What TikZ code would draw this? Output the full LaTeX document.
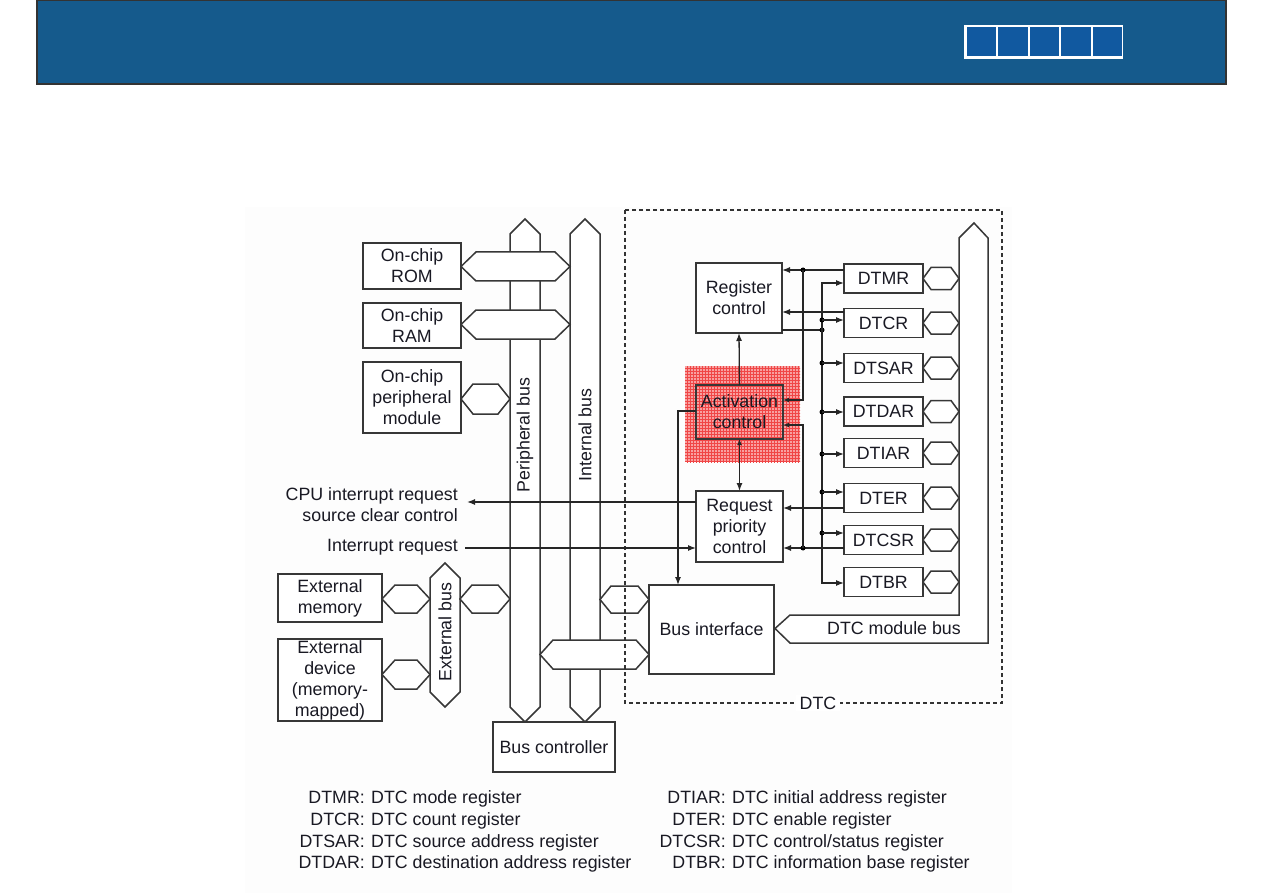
\documentclass[tikz,border=0pt]{standalone}
\usepackage{fontspec}
\setmainfont{Liberation Sans}
\usetikzlibrary{arrows.meta,patterns}
\definecolor{banner}{RGB}{21,90,140}
\definecolor{cellc}{RGB}{17,89,160}
\definecolor{lc}{RGB}{55,55,55}
\definecolor{tc}{RGB}{25,25,35}
\definecolor{hatch}{RGB}{248,160,160}
\definecolor{hatchline}{RGB}{240,70,70}
\newcommand\hexconn[5]{%
  \draw[bus] (#1,#3) -- ({#1+#5},{#3-#4}) -- ({#2-#5},{#3-#4}) -- (#2,#3)
    -- ({#2-#5},{#3+#4}) -- ({#1+#5},{#3+#4}) -- cycle;}
\begin{document}
\begin{tikzpicture}[x=1pt,y=-1pt,
  font=\fontsize{17.8}{21}\selectfont,
  box/.style={draw=lc, line width=1.5pt, fill=white, text=tc, align=center, inner sep=0pt, outer sep=0pt},
  reg/.style={box, minimum width=79pt, minimum height=29pt},
  bus/.style={draw=lc, line width=1.5pt, fill=white},
  conn/.style={draw=black!85, line width=1.3pt},
  arr/.style={conn, -{Latex[length=8pt,width=6pt]}},
  arrs/.style={conn, -{Latex[length=6pt,width=5pt]}},
  jdot/.style={circle, fill=black, inner sep=0pt, minimum size=5pt},
  lab/.style={text=tc, inner sep=0pt},
]
\useasboundingbox (0,0) rectangle (1263,893);
% banner
\path[fill=banner, draw=black!80, line width=1.2pt] (37,0) rectangle (1226,84);
\path[fill=white] (964,25) rectangle (1123,59);
\foreach \i in {0,...,4}
  \path[fill=cellc] ({966.5+\i*31.5},27.5) rectangle ({966.5+\i*31.5+29.5},56.5);
% faint background
\fill[black!0.8] (245,207) rectangle (1012,893);
% buses
\draw[bus] (510,234) -- (525,219) -- (540,234) -- (540,707) -- (525,722) -- (510,707) -- cycle;
\draw[bus] (570,234) -- (585,219) -- (600,234) -- (600,707) -- (585,722) -- (570,707) -- cycle;
\draw[bus] (430,578) -- (445,563) -- (460,578) -- (460,692) -- (445,707) -- (430,692) -- cycle;
\draw[bus] (959,238) -- (974,223) -- (988,238) -- (988,643) -- (790,643) -- (775,628.5) -- (790,615) -- (959,615) -- cycle;
\node[lab, rotate=90] (pbus) at (525,435) {Peripheral bus};
\node[lab, rotate=90] (ibus) at (585,435) {Internal bus};
\node[lab, rotate=90] (ebus) at (445,632) {External bus};
\node[lab] (mbus) at (894,628) {DTC module bus};
% hex connectors
\hexconn{461}{570}{266.5}{14.5}{15}
\hexconn{461}{570}{324.5}{14.5}{15}
\hexconn{461}{510}{399}{15}{12}
\hexconn{382}{430}{599}{14}{13}
\hexconn{382}{430}{674.5}{14.5}{13}
\hexconn{460}{510}{599}{14}{12}
\hexconn{600}{649}{599.5}{13.5}{11}
\hexconn{540}{649}{654.5}{14.5}{13}
\foreach \y in {278.5,323,368,411.5,453,498,540,582}
  \hexconn{923}{959}{\y}{11}{8}
% activation hatch
\fill[hatch] (685,366) rectangle (800,462);
\fill[pattern=grid, pattern color=hatchline] (685,366) rectangle (800,462);
% boxes
\node[box, minimum width=98pt, minimum height=46pt] (rom) at (412,266) {On-chip\\ROM};
\node[box, minimum width=98pt, minimum height=45pt] (ram) at (412,325.5) {On-chip\\RAM};
\node[box, minimum width=98pt, minimum height=71pt] (pmod) at (412,397.5) {On-chip\\peripheral\\module};
\node[box, minimum width=104pt, minimum height=48pt] (emem) at (330,598) {External\\memory};
\node[box, minimum width=104pt, minimum height=82pt] (edev) at (330,680) {External\\device\\(memory-\\mapped)};
\node[box, minimum width=122pt, minimum height=50pt] (bc) at (554,747) {Bus controller};
\node[box, minimum width=125pt, minimum height=89pt] (bif) at (711.5,629.5) {Bus interface};
\node[box, minimum width=86pt, minimum height=70pt] (regctl) at (739,298) {Register\\control};
\node[box, fill=none, minimum width=87pt, minimum height=54pt] (act) at (739.5,412) {Activation\\control};
\node[box, minimum width=87pt, minimum height=71pt] (req) at (739.5,526.5) {Request\\priority\\control};
\foreach \n/\y in {DTMR/278.5,DTCR/323,DTSAR/368,DTDAR/411.5,DTIAR/453,DTER/498,DTCSR/540,DTBR/582}
  \node[reg] (\n) at (883.5,\y) {\n};
% DTC dashed frame
\draw[draw=black!80, line width=1.2pt, dash pattern=on 4pt off 3pt] (625,210) rectangle (1002,703);
\node[lab, fill=white, inner xsep=4pt, inner ysep=2pt] (dtc) at (818,703) {DTC};
% connectors inside DTC
\draw[arr] (act.north) -- (regctl.south);
\draw[conn, {Latex[length=6pt,width=5pt]}-{Latex[length=8pt,width=6pt]}] (act.south) -- (req.north);
\draw[arr] (act.west |- 0,411) -| (678,0 |- bif.north);
\draw[arr] (DTMR.west |- 0,270) -- (regctl.east |- 0,270);
\draw[arr] (DTCR.west |- 0,312) -- (regctl.east |- 0,312);
\node[jdot] (j1) at (803,270) {};
\draw[arrs] (j1.center) |- (act.east |- 0,400);
\draw[arr] (DTER.west |- 0,508) -- (req.east |- 0,508);
\draw[arr] (DTCSR.west |- 0,548) -- (req.east |- 0,548);
\node[jdot] (j2) at (803,548) {};
\draw[arrs] (j2.center) |- (act.east |- 0,425);
\draw[conn] (regctl.east |- 0,330) -- (822,330);
\node[jdot] (j3) at (822,330) {};
\draw[arr] (j3.center) |- (DTMR.west |- 0,283);
\draw[arr] (j3.center) |- (DTBR.west |- 0,583);
\foreach \n/\y in {DTCR/320,DTSAR/363,DTDAR/412,DTIAR/454,DTER/492,DTCSR/533}{
  \node[jdot] (b\n) at (822,\y) {};
  \draw[arr] (b\n.center) -- (\n.west |- 0,\y);
}
% external signals
\node[lab, align=right, anchor=east] (cpu) at (458,505) {CPU interrupt request\\source clear control};
\node[lab, anchor=east] (irq) at (458,547) {Interrupt request};
\coordinate (cpuend) at (467,502);
\coordinate (irqstart) at (465,548);
\draw[arr] (req.west |- 0,502) -- (cpuend);
\draw[arr] (irqstart) -- (req.west |- 0,548);
% legend
\foreach \k/\d/\y in {DTMR/{mode register}/803,DTCR/{count register}/825,DTSAR/{source address register}/847,DTDAR/{destination address register}/868}{
  \node[lab, anchor=base east] (k\k) at (365,\y) {\k:};
  \node[lab, anchor=base west] (d\k) at (371,\y) {DTC \d};
}
\foreach \k/\d/\y in {DTIAR/{initial address register}/803,DTER/{enable register}/825,DTCSR/{control/status register}/847,DTBR/{information base register}/868}{
  \node[lab, anchor=base east] (k\k) at (726,\y) {\k:};
  \node[lab, anchor=base west] (d\k) at (732,\y) {DTC \d};
}
\end{tikzpicture}
\end{document}
